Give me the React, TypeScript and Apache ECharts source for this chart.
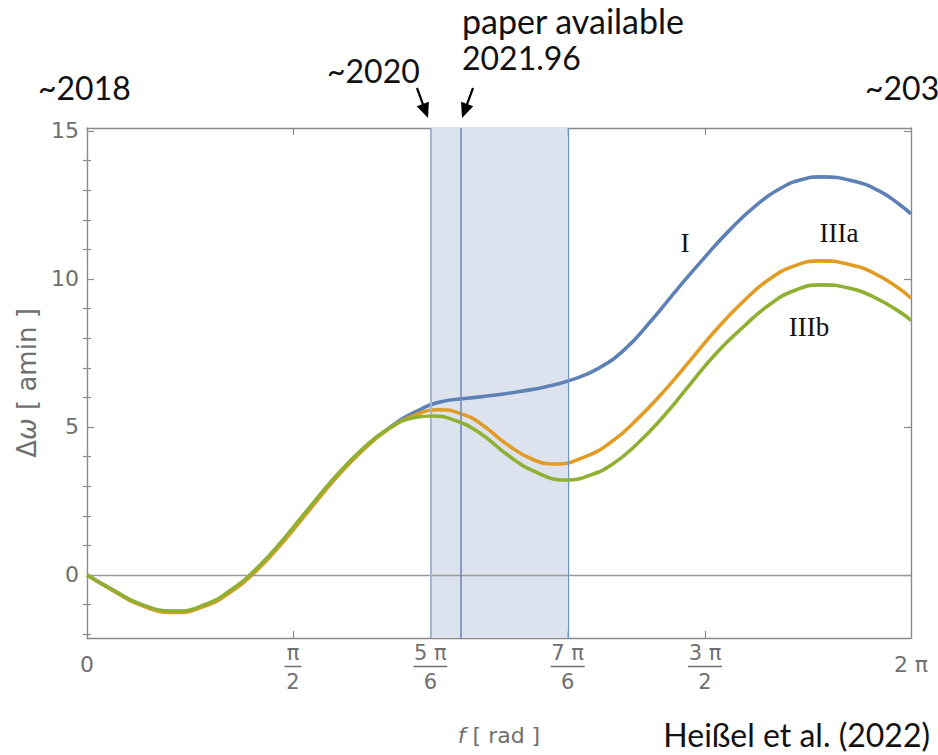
import React, { useEffect, useRef } from 'react';
import * as echarts from 'echarts';

const PI = Math.PI;

// true anomaly f [rad] and periastron shift Δω [amin], model I
const anomalyI = [
  0, 0.2, 0.4, 0.67, 0.9, 1.1, 1.3, 1.5, 1.7, 1.9, 2.1, 2.3, 2.5, 2.7, 2.9, 3.1,
  3.3, 3.5, 3.7, 3.9, 4.1, 4.3, 4.5, 4.7, 4.9, 5.1, 5.3, 5.45, 5.6, 5.85, 6.05, 6.2, 2 * PI,
];
const shiftI = [
  0, -0.52, -0.99, -1.24, -1.03, -0.53, 0.2, 1.17, 2.25, 3.3, 4.22, 4.96, 5.5, 5.85, 5.97, 6.07,
  6.2, 6.36, 6.6, 6.98, 7.62, 8.58, 9.65, 10.68, 11.65, 12.48, 13.09, 13.36, 13.45, 13.3, 12.95, 12.5, 12.2,
];

// model IIIa
const anomalyIIIa = [
  0, 0.2, 0.4, 0.67, 0.9, 1.1, 1.3, 1.5, 1.7, 1.9, 2.1, 2.3, 2.5, 2.69, 2.85, 3.0,
  3.2, 3.4, 3.57, 3.8, 4.0, 4.2, 4.4, 4.6, 4.8, 5.0, 5.2, 5.4, 5.6, 5.8, 6.0, 6.2, 2 * PI,
];
const shiftIIIa = [
  0, -0.53, -1.0, -1.27, -1.05, -0.56, 0.18, 1.14, 2.22, 3.28, 4.2, 4.93, 5.4, 5.58, 5.45, 5.12,
  4.42, 3.9, 3.75, 4.0, 4.5, 5.28, 6.21, 7.25, 8.3, 9.22, 9.98, 10.45, 10.61, 10.5, 10.2, 9.65, 9.35,
];

// model IIIb
const anomalyIIIb = [
  0, 0.2, 0.4, 0.67, 0.9, 1.1, 1.3, 1.5, 1.7, 1.9, 2.1, 2.3, 2.5, 2.62, 2.8, 3.0,
  3.2, 3.4, 3.66, 3.83, 4.0, 4.2, 4.4, 4.6, 4.8, 5.0, 5.2, 5.4, 5.6, 5.8, 6.0, 6.2, 2 * PI,
];
const shiftIIIb = [
  0, -0.51, -0.97, -1.22, -1.0, -0.5, 0.25, 1.22, 2.3, 3.35, 4.25, 4.95, 5.32, 5.37, 5.23, 4.78,
  4.08, 3.52, 3.21, 3.36, 3.72, 4.45, 5.38, 6.45, 7.5, 8.36, 9.12, 9.62, 9.8, 9.7, 9.39, 8.88, 8.6,
];

// axis ticks and labels
const xTickValues = [PI / 2, (5 * PI) / 6, 2.852, PI, (7 * PI) / 6, (3 * PI) / 2];
const xLabelValues = [0, PI / 2, (5 * PI) / 6, (7 * PI) / 6, (3 * PI) / 2, 2 * PI];
const xLabelNumerators = ['0', 'π', '5 π', '7 π', '3 π', '2 π'];
const xLabelDenominators = ['', '2', '6', '6', '2', ''];
const yMajorTicks = [0, 5, 10, 15];
const yMinorTicks = [-2, -1, 1, 2, 3, 4, 6, 7, 8, 9, 11, 12, 13, 14];
const yMin = -2.13;
const yMax = 15.1;

// observation window and paper date
const bandStart = (5 * PI) / 6;
const bandEnd = (7 * PI) / 6;
const paperLine = 2.852;

const SANS = 'Lato, "Open Sans", sans-serif';
const AXIS_FONT = '"DejaVu Sans", sans-serif';
const SERIF = '"Liberation Serif", "DejaVu Serif", serif';
const AXIS_GRAY = '#8a8a8a';
const LABEL_GRAY = '#707070';

const zip = (xs: number[], ys: number[]) => xs.map((x, i) => [x, ys[i]]);

function xLabel(value: number): string {
  let idx = 0;
  let best = Infinity;
  xLabelValues.forEach((v, i) => {
    const d = Math.abs(v - value);
    if (d < best) {
      best = d;
      idx = i;
    }
  });
  const num = xLabelNumerators[idx];
  const den = xLabelDenominators[idx];
  if (!den) return `{whole|${num}}`;
  const bar = num.length > 1 ? 'barL' : 'barS';
  return `{num|${num}}\n{${bar}|}\n{den|${den}}`;
}

function arrow(tail: [number, number], tip: [number, number]) {
  const dx = tip[0] - tail[0];
  const dy = tip[1] - tail[1];
  const len = Math.hypot(dx, dy);
  const ux = dx / len;
  const uy = dy / len;
  const headLen = 15;
  const halfW = 6.5;
  const bx = tip[0] - ux * headLen;
  const by = tip[1] - uy * headLen;
  const nx = -uy;
  const ny = ux;
  return [
    {
      type: 'line',
      shape: { x1: tail[0], y1: tail[1], x2: bx + ux * 2, y2: by + uy * 2 },
      style: { stroke: '#000', lineWidth: 2.2 },
      z: 100,
    },
    {
      type: 'polygon',
      shape: {
        points: [
          [tip[0], tip[1]],
          [bx + nx * halfW, by + ny * halfW],
          [bx - nx * halfW, by - ny * halfW],
        ],
      },
      style: { fill: '#000' },
      z: 100,
    },
  ];
}

function note(text: string, x: number, y: number, align = 'left', size = 32, font = SANS) {
  return {
    type: 'text',
    x,
    y,
    z: 100,
    style: {
      text,
      fill: '#111',
      font: `${size}px ${font}`,
      align,
      verticalAlign: 'middle',
    },
  };
}

export default function App() {
  const ref = useRef<HTMLDivElement>(null);

  useEffect(() => {
    if (!ref.current) return;
    const chart = echarts.init(ref.current, null, { renderer: 'svg' });

    const lineSeries = (name: string, xs: number[], ys: number[], color: string, z: number) => ({
      type: 'line',
      name,
      data: zip(xs, ys),
      showSymbol: false,
      smooth: 0.5,
      lineStyle: { color, width: 3.6 },
      itemStyle: { color },
      z,
    });

    const tickStyle = { color: AXIS_GRAY, width: 1.2 };
    const labelText = { color: LABEL_GRAY, fontFamily: AXIS_FONT };

    chart.setOption({
      animation: false,
      backgroundColor: '#fff',
      grid: { left: 87, right: 27, top: 128, bottom: 117, containLabel: false },
      xAxis: [
        {
          type: 'value',
          position: 'bottom',
          min: 0,
          max: 2 * PI,
          axisLine: { show: true, onZero: false, lineStyle: { color: AXIS_GRAY, width: 1.4 } },
          axisTick: { show: true, inside: true, length: 7, customValues: xTickValues, lineStyle: tickStyle },
          axisLabel: {
            show: true,
            customValues: xLabelValues,
            margin: 3,
            formatter: (v: number) => xLabel(v),
            ...labelText,
            rich: {
              whole: { ...labelText, fontSize: 22, lineHeight: 46, verticalAlign: 'middle' },
              num: { ...labelText, fontSize: 21, lineHeight: 23 },
              den: { ...labelText, fontSize: 21, lineHeight: 25 },
              barS: { width: 17, height: 1.5, lineHeight: 5, backgroundColor: LABEL_GRAY },
              barL: { width: 34, height: 1.5, lineHeight: 5, backgroundColor: LABEL_GRAY },
            },
          },
          splitLine: { show: false },
          name: '{it|f}{n| [ rad ]}',
          nameLocation: 'middle',
          nameGap: 86,
          nameTextStyle: {
            rich: {
              it: { ...labelText, fontSize: 22, fontStyle: 'italic' },
              n: { ...labelText, fontSize: 22 },
            },
          },
        },
        {
          type: 'value',
          position: 'top',
          min: 0,
          max: 2 * PI,
          axisLine: { show: true, onZero: false, lineStyle: { color: AXIS_GRAY, width: 1.4 } },
          axisTick: { show: true, inside: true, length: 7, customValues: xTickValues, lineStyle: tickStyle },
          axisLabel: { show: false },
          splitLine: { show: false },
        },
      ],
      yAxis: [
        {
          type: 'value',
          position: 'left',
          min: yMin,
          max: yMax,
          axisLine: { show: true, onZero: false, lineStyle: { color: AXIS_GRAY, width: 1.4 } },
          axisTick: { show: true, inside: true, length: 7, customValues: yMajorTicks, lineStyle: tickStyle },
          axisLabel: {
            show: true,
            customValues: yMajorTicks,
            margin: 8,
            fontSize: 22,
            ...labelText,
          },
          splitLine: { show: false },
          name: '{n|Δ}{it|ω}{n| [ amin ]}',
          nameLocation: 'middle',
          nameGap: 46,
          nameTextStyle: {
            rich: {
              it: { ...labelText, fontSize: 26, fontStyle: 'italic' },
              n: { ...labelText, fontSize: 26 },
            },
          },
        },
        {
          type: 'value',
          position: 'left',
          min: yMin,
          max: yMax,
          axisLine: { show: false },
          axisTick: { show: true, inside: true, length: 4, customValues: yMinorTicks, lineStyle: tickStyle },
          axisLabel: { show: false },
          splitLine: { show: false },
        },
        {
          type: 'value',
          position: 'right',
          min: yMin,
          max: yMax,
          axisLine: { show: true, onZero: false, lineStyle: { color: AXIS_GRAY, width: 1.4 } },
          axisTick: { show: true, inside: true, length: 7, customValues: yMajorTicks, lineStyle: tickStyle },
          axisLabel: { show: false },
          splitLine: { show: false },
        },
        {
          type: 'value',
          position: 'right',
          min: yMin,
          max: yMax,
          axisLine: { show: false },
          axisTick: { show: true, inside: true, length: 4, customValues: yMinorTicks, lineStyle: tickStyle },
          axisLabel: { show: false },
          splitLine: { show: false },
        },
      ],
      series: [
        {
          type: 'line',
          name: 'window',
          data: [],
          z: 1,
          markArea: {
            silent: true,
            itemStyle: { color: '#dde3ee' },
            data: [[{ xAxis: bandStart }, { xAxis: bandEnd }]],
          },
          markLine: {
            silent: true,
            symbol: ['none', 'none'],
            label: { show: false },
            data: [
              { yAxis: 0, lineStyle: { color: '#9a9a9a', width: 1.3, type: 'solid' } },
              { xAxis: bandStart, lineStyle: { color: '#a2b4d6', width: 2, type: 'solid' } },
              { xAxis: paperLine, lineStyle: { color: '#6f89bb', width: 1.6, type: 'solid' } },
              { xAxis: bandEnd, lineStyle: { color: '#7194c8', width: 1.3, type: 'solid' } },
            ],
          },
        },
        lineSeries('I', anomalyI, shiftI, '#5e81b5', 3),
        lineSeries('IIIa', anomalyIIIa, shiftIIIa, '#e19c24', 4),
        lineSeries('IIIb', anomalyIIIb, shiftIIIb, '#8fb032', 5),
      ],
      graphic: [
        note('~2018', 38, 87),
        note('~2020', 327, 70),
        note('paper available', 462, 20, 'left', 34),
        note('2021.96', 462, 57),
        note('~203', 865, 87),
        ...arrow([417, 88], [428, 118]),
        ...arrow([473, 88], [462, 118]),
        note('I', 685, 243, 'center', 27, SERIF),
        note('IIIa', 839, 233, 'center', 27, SERIF),
        note('IIIb', 809, 327, 'center', 27, SERIF),
        note('Heißel et al. (2022)', 930, 734, 'right', 32),
      ],
    });

    return () => chart.dispose();
  }, []);

  return <div ref={ref} style={{ position: 'fixed', left: 0, top: 0, width: 938, height: 755 }} />;
}
